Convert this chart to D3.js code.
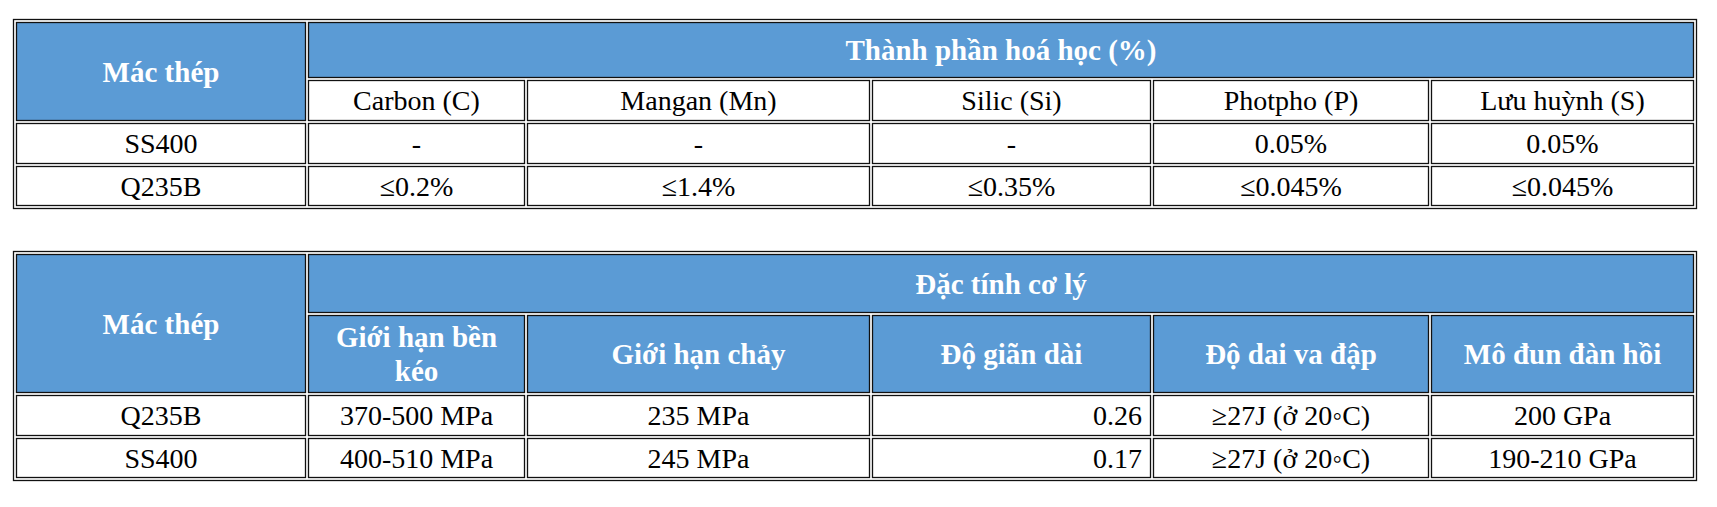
<!DOCTYPE html>
<html><head><meta charset="utf-8">
<script src="https://cdn.jsdelivr.net/npm/d3@7"></script>
<style>body{margin:0;background:#fff}</style></head>
<body><svg id="c" width="1717" height="507"></svg>
<script>
const gradeLabel = "Mác thép";
const chemTitle = "Thành phần hoá học (%)";
const chemCols = ["Carbon (C)","Mangan (Mn)","Silic (Si)","Photpho (P)","Lưu huỳnh (S)"];
const chemGrades = ["SS400","Q235B"];
const chemValues = [["-","-","-","0.05%","0.05%"],["≤0.2%","≤1.4%","≤0.35%","≤0.045%","≤0.045%"]];
const mechTitle = "Đặc tính cơ lý";
const mechCols = [["Giới hạn bền","kéo"],["Giới hạn chảy"],["Độ giãn dài"],["Độ dai va đập"],["Mô đun đàn hồi"]];
const mechGrades = ["Q235B","SS400"];
const mechValues = [["370-500 MPa","235 MPa","0.26","≥27J (ở 20◦C)","200 GPa"],["400-510 MPa","245 MPa","0.17","≥27J (ở 20◦C)","190-210 GPa"]];
const rightAlignCol = [false,false,true,false,false];

const xs = [13,307,526,871,1152,1430,1697];
const svg = d3.select("#c");
const blue = "#5b9bd5", font = "'Liberation Serif','Times New Roman',serif";

function cell(x0,x1,y0,y1,fill,lines,bold,color,align){
  svg.append("rect").attr("x",x0+1.5).attr("y",y0+1.5).attr("width",x1-x0-3).attr("height",y1-y0-3)
    .attr("fill",fill).attr("stroke","#111").attr("stroke-width",1.3);
  const lh=34, cy=(y0+y1)/2 - (lines.length-1)*lh/2;
  lines.forEach((t,i)=>{
    svg.append("text").attr("x",align==="end"?x1-10:(x0+x1)/2).attr("y",cy+i*lh)
      .attr("dy","0.35em").attr("text-anchor",align||"middle")
      .attr("font-family",font).attr("font-size",bold?29:28).attr("font-weight",bold?"bold":"normal")
      .attr("fill",color).text(t);
  });
}
function table(ys,title,cols,grades,values,headerBlue){
  svg.append("rect").attr("x",xs[0]+0.5).attr("y",ys[0]+0.5).attr("width",xs[6]-xs[0]-1).attr("height",ys[4]-ys[0]-1)
    .attr("fill","none").attr("stroke","#111").attr("stroke-width",1.3);
  const ix0=xs[0]+2, ix1=xs[6]-2, iy0=ys[0]+2;
  cell(ix0,xs[1],iy0,ys[2],blue,[gradeLabel],true,"#fff");
  cell(xs[1],ix1,iy0,ys[1],blue,[title],true,"#fff");
  cols.forEach((c,i)=>cell(xs[i+1],i===4?ix1:xs[i+2],ys[1],ys[2],headerBlue?blue:"#fff",Array.isArray(c)?c:[c],headerBlue,headerBlue?"#fff":"#000"));
  grades.forEach((g,r)=>{
    const y0=ys[2+r], y1=r===1?ys[4]-2:ys[3+r];
    cell(ix0,xs[1],y0,y1,"#fff",[g],false,"#000");
    values[r].forEach((v,i)=>cell(xs[i+1],i===4?ix1:xs[i+2],y0,y1,"#fff",[v],false,"#000",rightAlignCol[i]&&headerBlue?"end":null));
  });
}
table([19,79,122,165,209],chemTitle,chemCols,chemGrades,chemValues,false);
table([251,314,394,437,481],mechTitle,mechCols,mechGrades,mechValues,true);
</script></body></html>
